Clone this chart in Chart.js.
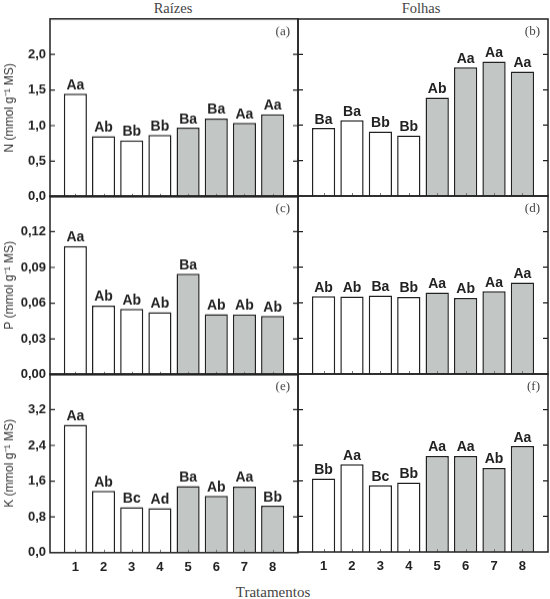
<!DOCTYPE html>
<html>
<head>
<meta charset="utf-8">
<script src="https://cdn.jsdelivr.net/npm/chart.js@4.4.0/dist/chart.umd.min.js"></script>
<style>
  body { margin: 0; background: #fff; width: 550px; height: 599px; position: relative; overflow: hidden; }
  canvas { position: absolute; }
  .lbl { position: absolute; font-family: "Liberation Serif", "Times New Roman", serif; color: #444;
         font-size: 14.5px; transform: translate(-50%, -50%); white-space: nowrap; }
</style>
</head>
<body>
<div class="lbl" style="left:173px;top:8px">Raízes</div>
<div class="lbl" style="left:421px;top:8px">Folhas</div>
<div class="lbl" style="left:273px;top:592px;font-size:15px">Tratamentos</div>

<canvas id="pa"></canvas>
<canvas id="pb"></canvas>
<canvas id="pc"></canvas>
<canvas id="pd"></canvas>
<canvas id="pe"></canvas>
<canvas id="pf"></canvas>

<script>
// treatments on the x axis
var treatments = [1, 2, 3, 4, 5, 6, 7, 8];

// N (mmol g-1 MS)
var nRoots  = [1.45, 0.85, 0.79, 0.87, 0.97, 1.10, 1.04, 1.16];
var nLeaves = [0.96, 1.07, 0.91, 0.855, 1.39, 1.82, 1.90, 1.76];
// P (mmol g-1 MS)
var pRoots  = [0.108, 0.058, 0.0553, 0.0525, 0.0847, 0.0508, 0.0505, 0.0494];
var pLeaves = [0.0655, 0.0653, 0.0661, 0.0649, 0.0686, 0.0641, 0.0697, 0.0771];
// K (mmol g-1 MS)
var kRoots  = [2.86, 1.385, 1.02, 0.996, 1.49, 1.27, 1.48, 1.05];
var kLeaves = [1.654, 1.97, 1.50, 1.56, 2.16, 2.16, 1.89, 2.38];

// letters over the bars
var nRootsLet  = ["Aa", "Ab", "Bb", "Bb", "Ba", "Ba", "Aa", "Aa"];
var nLeavesLet = ["Ba", "Ba", "Bb", "Bb", "Ab", "Aa", "Aa", "Aa"];
var pRootsLet  = ["Aa", "Ab", "Ab", "Ab", "Ba", "Ab", "Ab", "Ab"];
var pLeavesLet = ["Ab", "Ab", "Ba", "Bb", "Aa", "Ab", "Aa", "Aa"];
var kRootsLet  = ["Aa", "Ab", "Bc", "Ad", "Ba", "Ab", "Aa", "Bb"];
var kLeavesLet = ["Bb", "Aa", "Bc", "Bb", "Aa", "Aa", "Ab", "Aa"];

// y ticks
var nTicks = [0, 0.5, 1.0, 1.5, 2.0];
var pTicks = [0, 0.03, 0.06, 0.09, 0.12];
var kTicks = [0, 0.8, 1.6, 2.4, 3.2];

var WHITE = '#ffffff';
var GREY = '#c2c6c4';
var INK = '#222222';

function decimalComma(v, d) {
  return v.toFixed(d).replace('.', ',');
}

var panelPlugin = {
  id: 'panel',
  afterDatasetsDraw: function(chart, args, opts) {
    var ctx = chart.ctx, a = chart.chartArea, x = chart.scales.x, y = chart.scales.y;
    ctx.save();

    // letters
    ctx.font = 'bold 14px "Liberation Sans", Arial, sans-serif';
    ctx.fillStyle = INK;
    ctx.textAlign = 'center';
    ctx.textBaseline = 'alphabetic';
    chart.getDatasetMeta(0).data.forEach(function(bar, i) {
      ctx.fillText(opts.letters[i], bar.x, bar.y - 4.5);
    });

    // inward ticks
    ctx.strokeStyle = INK;
    ctx.lineWidth = 1.2;
    ctx.beginPath();
    opts.yTicks.forEach(function(v) {
      if (v === 0) return;
      var py = y.getPixelForValue(v);
      ctx.moveTo(a.left, py); ctx.lineTo(a.left + 5, py);
      ctx.moveTo(a.right, py); ctx.lineTo(a.right - 5, py);
    });
    ctx.stroke();
    ctx.strokeStyle = '#777';
    ctx.lineWidth = 1;
    ctx.beginPath();
    treatments.forEach(function(t) {
      var px = Math.round(x.getPixelForValue(t)) + 0.5;
      ctx.moveTo(px, a.bottom); ctx.lineTo(px, a.bottom - 3);
    });
    ctx.stroke();

    // frame
    ctx.strokeStyle = INK;
    ctx.lineWidth = 1.5;
    ctx.strokeRect(a.left, a.top, a.right - a.left, a.bottom - a.top);

    // panel tag
    ctx.font = '13px "Liberation Serif", "Times New Roman", serif';
    ctx.fillStyle = '#444';
    ctx.textAlign = 'right';
    ctx.textBaseline = 'middle';
    ctx.fillText(opts.tag, a.right - 8, a.top + 13);
    ctx.restore();
  }
};

// plot-area frames in page pixels
var rows = [
  { top: 19,  h: 177 },
  { top: 196, h: 178 },
  { top: 374, h: 178 }
];
var cols = [
  { left: 50,  w: 248, axisW: 50 },
  { left: 298, w: 250, axisW: 8 }
];

function makePanel(id, row, col, values, letters, yTicks, yMax, decimals, yTitle, tag) {
  var r = rows[row], c = cols[col];
  var padTop = 10;
  var xAxisH = row === 2 ? 30 : 12;
  var cw = c.axisW + c.w + 4;
  var chh = padTop + r.h + xAxisH;
  var cv = document.getElementById(id);
  cv.width = cw;
  cv.height = chh;

  var chart = new Chart(cv, {
    type: 'bar',
    data: {
      datasets: [{
        data: treatments.map(function(t, i) { return { x: t, y: values[i] }; }),
        backgroundColor: treatments.map(function(t) { return t <= 4 ? WHITE : GREY; }),
        borderColor: INK,
        borderWidth: 1.5,
        barPercentage: 0.82,
        categoryPercentage: 1
      }]
    },
    options: {
      responsive: false,
      maintainAspectRatio: false,
      animation: false,
      events: [],
      layout: { autoPadding: false, padding: { top: padTop, right: 4, bottom: 0, left: 0 } },
      plugins: {
        legend: { display: false },
        tooltip: { enabled: false },
        panel: { letters: letters, yTicks: yTicks, tag: tag }
      },
      scales: {
        x: {
          type: 'linear',
          offset: false,
          min: 0.1,
          max: 8.9,
          grid: { display: false, drawTicks: false },
          border: { display: false },
          afterBuildTicks: function(s) { s.ticks = treatments.map(function(t) { return { value: t }; }); },
          afterFit: function(s) { s.height = xAxisH; },
          ticks: {
            display: row === 2,
            padding: 7,
            color: INK,
            font: { family: '"Liberation Sans", Arial, sans-serif', size: 13, weight: 'bold' },
            callback: function(v) { return String(v); }
          }
        },
        y: {
          min: 0,
          max: yMax,
          grid: { display: false, drawTicks: false },
          border: { display: false },
          afterBuildTicks: function(s) { s.ticks = yTicks.map(function(v) { return { value: v }; }); },
          afterFit: function(s) { s.width = c.axisW; },
          ticks: {
            display: col === 0,
            padding: 4,
            color: INK,
            font: { family: '"Liberation Sans", Arial, sans-serif', size: 13, weight: 'bold' },
            callback: function(v) { return decimalComma(v, decimals); }
          },
          title: {
            display: col === 0,
            text: yTitle,
            color: '#333',
            padding: { top: 2, bottom: 0 },
            font: { family: '"Liberation Sans", Arial, sans-serif', size: 12 }
          }
        }
      }
    },
    plugins: [panelPlugin]
  });

  // make the plot area exactly the wanted size, then place the canvas on the page
  var a = chart.chartArea;
  var dh = r.h - (a.bottom - a.top);
  var dw = c.w - (a.right - a.left);
  if (Math.abs(dh) > 0.01 || Math.abs(dw) > 0.01) {
    chart.resize(cw + dw, chh + dh);
    a = chart.chartArea;
  }
  cv.style.left = (c.left - a.left) + 'px';
  cv.style.top = (r.top - a.top) + 'px';
}

makePanel('pa', 0, 0, nRoots,  nRootsLet,  nTicks, 2.5,  1, 'N (mmol g⁻¹ MS)', '(a)');
makePanel('pb', 0, 1, nLeaves, nLeavesLet, nTicks, 2.5,  1, '', '(b)');
makePanel('pc', 1, 0, pRoots,  pRootsLet,  pTicks, 0.15, 2, 'P (mmol g⁻¹ MS)', '(c)');
makePanel('pd', 1, 1, pLeaves, pLeavesLet, pTicks, 0.15, 2, '', '(d)');
makePanel('pe', 2, 0, kRoots,  kRootsLet,  kTicks, 4.0,  1, 'K (mmol g⁻¹ MS)', '(e)');
makePanel('pf', 2, 1, kLeaves, kLeavesLet, kTicks, 4.0,  1, '', '(f)');
</script>
</body>
</html>
